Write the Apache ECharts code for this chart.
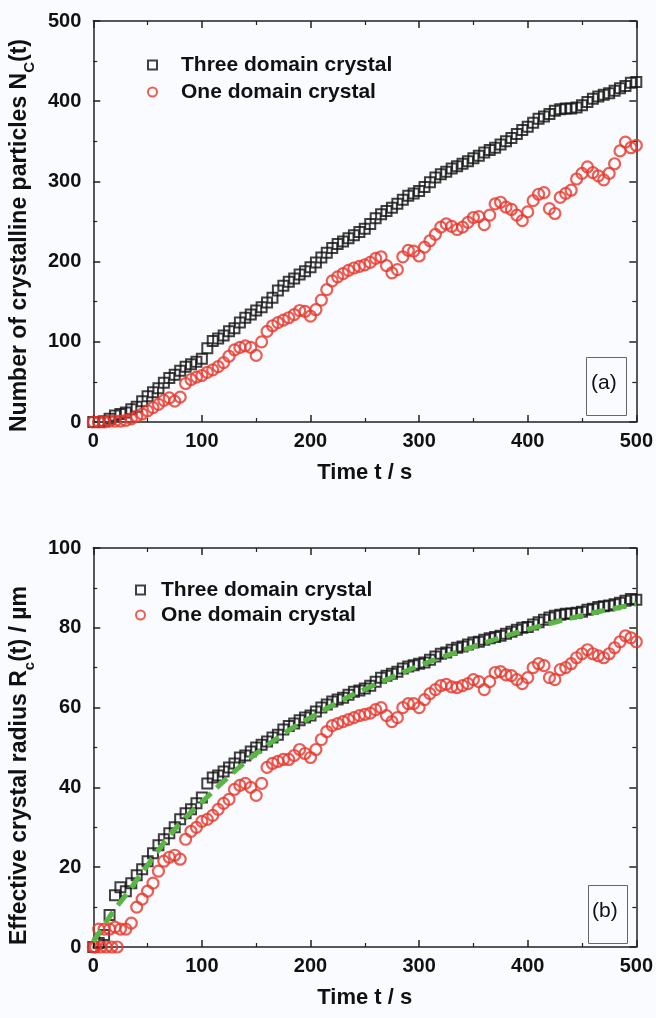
<!DOCTYPE html>
<html>
<head>
<meta charset="utf-8">
<script src="https://cdn.jsdelivr.net/npm/echarts@6/dist/echarts.min.js"></script>
<style>
html,body{margin:0;padding:0;background:#fafbfe;}
#chart{width:656px;height:1018px;}
</style>
</head>
<body>
<div id="chart"></div>
<script>
// ---- data ----
const timeS = [0,5,10,15,20,25,30,35,40,45,50,55,60,65,70,75,80,85,90,95,100,105,110,115,120,125,130,135,140,145,150,155,160,165,170,175,180,185,190,195,200,205,210,215,220,225,230,235,240,245,250,255,260,265,270,275,280,285,290,295,300,305,310,315,320,325,330,335,340,345,350,355,360,365,370,375,380,385,390,395,400,405,410,415,420,425,430,435,440,445,450,455,460,465,470,475,480,485,490,495,500];

// (a) number of crystalline particles
const nThree = [0,0,1,4,8,10,12,16,19,26,32,37,42,49,55,59,64,69,72,75,79,92,101,104,108,113,117,124,130,134,139,143,149,155,164,170,175,179,184,188,193,199,205,211,217,222,225,229,233,237,241,247,254,259,263,267,272,277,282,285,288,293,299,305,309,312,316,319,322,325,329,332,336,339,342,346,350,354,359,364,368,373,378,381,384,388,390,391,391,392,395,399,403,406,408,410,413,416,419,423,424];
const nOne = [0,0,0,1,1,1,2,4,7,10,14,18,22,27,30,26,31,48,53,56,58,62,65,69,74,82,90,93,95,93,83,100,113,120,124,127,130,134,139,138,132,140,152,165,176,181,185,189,192,194,196,199,204,206,195,186,190,206,214,213,207,218,226,234,243,247,244,240,243,249,255,256,246,258,272,274,268,265,258,251,262,276,284,286,266,260,280,285,289,303,310,318,311,307,302,310,322,338,349,342,345];

// (b) effective crystal radius
const rThree = [0,1,3,8,13,15,14,16,18,19.5,21.5,23.5,25.5,27,28.5,30,32,33.5,34.5,36,37.5,41,42.5,43,44,45,46,47.5,48,49,50,50.7,51.5,52.5,53.2,54.5,55.4,56,56.8,57.5,58,59,60,60.8,61.5,62,62.5,63.2,64,64.3,64.8,65.5,66.5,67.5,68,68.5,69,69.8,70.3,70.6,71,71.3,72,72.8,73.5,73.8,74.5,75,75.3,75.8,76.3,76.5,77,77.4,77.7,78,78.5,79,79.5,80,80.2,80.8,81.4,82,82.6,83,83.3,83.5,83.6,83.8,84,84.5,84.8,85.2,85.4,85.6,85.9,86.3,86.8,87.2,87];
const rOne = [0,4.5,4.5,4.5,5,4.5,4.5,6,10,12,14,16,19,21.5,22.5,23,22,27,29,30,31.5,32,33,34.5,36,37,39.5,40.5,41,40,38,41,45,46,46.5,47,47,48,49.5,48.5,47.5,49.5,52,54,55.5,56,56.5,57,57.5,58,58.3,58.6,59.5,60,58,56.5,57.5,60,61,61,60,62,63.5,64.5,65.5,65.8,65.2,65,65.5,66,67,66.5,64.5,66.5,68.8,69,68.2,68,67,66,67.5,70,71,70.5,67.5,67,69.5,70,71,72.5,73.5,74.5,73.5,73,72.5,73.5,75,76.5,78,77.5,76.5];
const rOneEarlyT = [2,7,12,17,22];
const rOneEarlyR = [0,0,0,0,0];

// fitted curve (green dashed)
const fitT = [0,10,20,30,40,50,60,70,80,90,100,120,140,160,180,200,225,250,275,300,325,350,375,400,425,450,475,500];
const fitR = [1.3,5.5,9.5,13,16.8,20.5,24.3,27.8,31,33.8,36.3,41.5,46.3,50.5,54.3,57.5,61.3,64.6,67.6,70.5,73,75.3,77.5,79.6,81.4,83.1,84.6,86];

const xTicks = {min:0, max:500, interval:100};
const seriesNames = ['Three domain crystal','One domain crystal'];

function pairs(xs, ys){ return xs.map((x,i)=>[x, ys[i]]); }

const FONT = 'Liberation Sans, Arial, sans-serif';
const AX = '#222';
const BLACK = '#111';
const RED = '#e8372a';
const GREEN = '#5ab545';

function xAxisMain(gi){
  return {
    type:'value', gridIndex:gi, min:xTicks.min, max:xTicks.max, interval:xTicks.interval,
    name:'Time t / s', nameLocation:'middle', nameGap:40,
    nameTextStyle:{fontFamily:FONT, fontWeight:'bold', fontSize:22, color:'#111'},
    axisLine:{show:true, onZero:false, lineStyle:{color:AX, width:1.5}},
    axisTick:{show:true, inside:true, length:7, lineStyle:{color:AX, width:1.5}},
    minorTick:{show:true, splitNumber:2, length:4, lineStyle:{color:AX, width:1.2}},
    axisLabel:{fontFamily:FONT, fontWeight:'bold', fontSize:20, color:'#111', margin:9},
    splitLine:{show:false}
  };
}
function xAxisTop(gi){
  return {
    type:'value', gridIndex:gi, position:'top', min:xTicks.min, max:xTicks.max, interval:xTicks.interval,
    axisLine:{show:true, onZero:false, lineStyle:{color:AX, width:1.5}},
    axisTick:{show:true, inside:true, length:7, lineStyle:{color:AX, width:1.5}},
    minorTick:{show:true, splitNumber:2, length:4, lineStyle:{color:AX, width:1.2}},
    axisLabel:{show:false}, splitLine:{show:false}
  };
}
function yAxisMain(gi, max, interval, name, rich, pad){
  return {
    type:'value', gridIndex:gi, min:0, max:max, interval:interval,
    name:name, nameLocation:'middle', nameGap:56, nameRotate:90,
    nameTextStyle:{fontFamily:FONT, fontWeight:'bold', fontSize:23, color:'#111', rich:rich, padding:pad},
    axisLine:{show:true, onZero:false, lineStyle:{color:AX, width:1.5}},
    axisTick:{show:true, inside:true, length:7, lineStyle:{color:AX, width:1.5}},
    minorTick:{show:true, splitNumber:2, length:4, lineStyle:{color:AX, width:1.2}},
    axisLabel:{fontFamily:FONT, fontWeight:'bold', fontSize:20, color:'#111', margin:12},
    splitLine:{show:false}
  };
}
function yAxisRight(gi, max, interval){
  return {
    type:'value', gridIndex:gi, position:'right', min:0, max:max, interval:interval,
    axisLine:{show:true, onZero:false, lineStyle:{color:AX, width:1.5}},
    axisTick:{show:true, inside:true, length:7, lineStyle:{color:AX, width:1.5}},
    minorTick:{show:true, splitNumber:2, length:4, lineStyle:{color:AX, width:1.2}},
    axisLabel:{show:false}, splitLine:{show:false}
  };
}

const subStyle = {fontFamily:FONT, fontWeight:'bold', fontSize:15, color:'#111', verticalAlign:'bottom', padding:[0,0,-6,0]};
const mainStyle = {fontFamily:FONT, fontWeight:'bold', fontSize:23, color:'#111'};

function sq(name, xi, yi, data){
  return {type:'scatter', name:name, xAxisIndex:xi, yAxisIndex:yi, data:data, symbol:'rect', symbolSize:10,
    itemStyle:{color:'rgba(0,0,0,0)', borderColor:BLACK, borderWidth:2}, z:2};
}
function circ(name, xi, yi, data){
  return {type:'scatter', name:name, xAxisIndex:xi, yAxisIndex:yi, data:data, symbol:'circle', symbolSize:11,
    itemStyle:{color:'rgba(0,0,0,0)', borderColor:RED, borderWidth:2.2}, z:3};
}

function legendText(padLeft){
  return {fontFamily:FONT, fontWeight:'bold', fontSize:21, color:'#111', lineHeight:22, padding:[0,0,0,padLeft]};
}

const option = {
  backgroundColor:'#fafbfe',
  animation:false,
  grid:[
    {left:92, right:18, top:21, height:401},
    {left:92, right:18, top:548, height:399}
  ],
  xAxis:[xAxisMain(0), xAxisTop(0), xAxisMain(1), xAxisTop(1)],
  yAxis:[
    yAxisMain(0, 500, 100, '{m|Number of crystalline particles N}{s|C}{m|(t)}', {m:mainStyle, s:subStyle}, [0,28,0,0]),
    yAxisRight(0, 500, 100),
    yAxisMain(1, 100, 20, '{m|Effective crystal radius R}{s|c}{m|(t) / µm}', {m:mainStyle, s:subStyle}, [0,36,0,0]),
    yAxisRight(1, 100, 20)
  ],
  legend:[
    {orient:'vertical', left:142, top:49, itemWidth:9, itemHeight:9, itemGap:5, data:seriesNames, textStyle:legendText(19), selectedMode:false},
    {orient:'vertical', left:130, top:574, itemWidth:9, itemHeight:9, itemGap:3, data:seriesNames, textStyle:legendText(11), selectedMode:false}
  ],
  series:[
    sq(seriesNames[0], 0, 0, pairs(timeS, nThree)),
    circ(seriesNames[1], 0, 0, pairs(timeS, nOne)),
    sq(seriesNames[0], 2, 2, pairs(timeS, rThree)),
    circ(seriesNames[1], 2, 2, pairs(timeS, rOne).concat(pairs(rOneEarlyT, rOneEarlyR))),
    {type:'line', name:'fit', xAxisIndex:2, yAxisIndex:2, data:pairs(fitT, fitR), smooth:true, showSymbol:false, symbol:'none',
      lineStyle:{color:GREEN, width:5, type:[14,8]}, z:4}
  ],
  graphic:[
    {type:'rect', left:584, top:355, shape:{width:40, height:58}, style:{fill:'none', stroke:'#666', lineWidth:1}},
    {type:'text', left:591, top:373, style:{text:'(a)', fontFamily:FONT, fontSize:21, fill:'#111'}},
    {type:'rect', left:586, top:883, shape:{width:39, height:58}, style:{fill:'none', stroke:'#666', lineWidth:1}},
    {type:'text', left:592, top:901, style:{text:'(b)', fontFamily:FONT, fontSize:21, fill:'#111'}}
  ]
};

const chart = echarts.init(document.getElementById('chart'), null, {renderer:'canvas'});
chart.setOption(option);
</script>
</body>
</html>
